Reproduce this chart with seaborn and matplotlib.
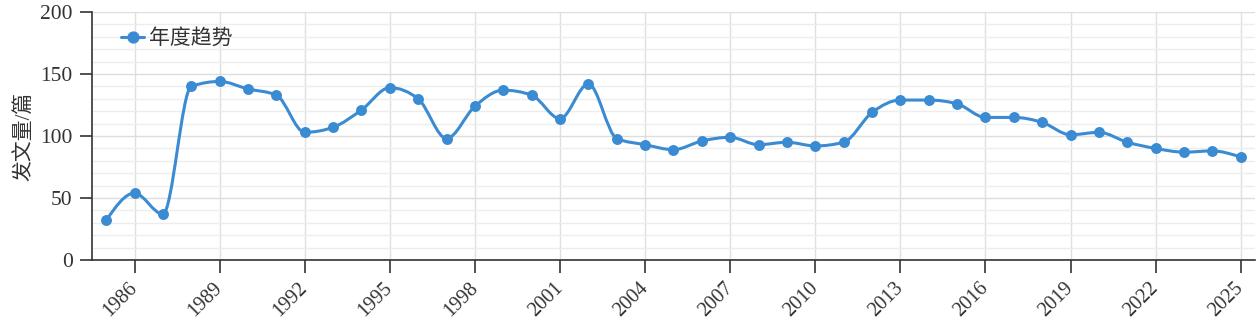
import numpy as np
import pandas as pd
import matplotlib
matplotlib.use("Agg")
import matplotlib.pyplot as plt
from matplotlib.path import Path
from matplotlib.patches import PathPatch
from matplotlib.lines import Line2D
from matplotlib.ticker import MultipleLocator
from matplotlib.transforms import ScaledTranslation
import seaborn as sns

years = list(range(1985, 2026))
counts = [32, 54, 37, 140, 144, 138, 133, 103, 107, 121, 139, 130, 98, 124,
          137, 133, 114, 142, 98, 93, 89, 96, 99, 93, 95, 92, 95, 119,
          129, 129, 126, 115, 115, 111, 101, 103, 95, 90, 87, 88, 83]
series_name = "年度趋势"
y_label = "发文量/篇"
x_ticks = list(range(1986, 2026, 3))

sns.set_theme(style="white")
plt.rcParams['font.family'] = ['Liberation Serif', 'Noto Sans CJK SC']
plt.rcParams['axes.unicode_minus'] = False

color = "#3b8bd3"
text_color = "#333333"
df = pd.DataFrame({"year": years, "count": counts})

fig = plt.figure(figsize=(12.6, 3.33), dpi=100)
ax = fig.add_axes([0.073, 0.219, 0.923, 0.745])


def monotone_x_path(xs, ys):
    """Cubic Bezier path with monotone-x tangents (as d3.curveMonotoneX)."""
    xs = np.asarray(xs, float)
    ys = np.asarray(ys, float)
    n = len(xs)
    h = np.diff(xs)
    s = np.diff(ys) / h
    sign = lambda v: -1.0 if v < 0 else 1.0
    t = np.zeros(n)
    for i in range(1, n - 1):
        h0, h1, s0, s1 = h[i - 1], h[i], s[i - 1], s[i]
        p = (s0 * h1 + s1 * h0) / (h0 + h1)
        t[i] = (sign(s0) + sign(s1)) * min(abs(s0), abs(s1), 0.5 * abs(p))
    t[0] = (3 * s[0] - t[1]) / 2
    t[-1] = (3 * s[-1] - t[-2]) / 2
    verts = [(xs[0], ys[0])]
    codes = [Path.MOVETO]
    for i in range(n - 1):
        dx = h[i] / 3
        verts += [(xs[i] + dx, ys[i] + dx * t[i]),
                  (xs[i + 1] - dx, ys[i + 1] - dx * t[i + 1]),
                  (xs[i + 1], ys[i + 1])]
        codes += [Path.CURVE4] * 3
    return Path(verts, codes)


patch = PathPatch(monotone_x_path(df["year"], df["count"]), facecolor="none",
                  edgecolor=color, lw=2.2, zorder=3, capstyle="round",
                  joinstyle="round")
ax.add_patch(patch)

sns.scatterplot(data=df, x="year", y="count", ax=ax, color=color, s=62,
                edgecolor=color, linewidth=0, zorder=4, legend=False)

ax.set_xlim(1984.5, 2025.5)
ax.set_ylim(0, 200)
ax.set_xticks(x_ticks)
ax.set_xticklabels([str(t) for t in x_ticks], rotation=45, ha="right",
                   va="center", rotation_mode="anchor", fontsize=14.5,
                   color=text_color)
offset = ScaledTranslation(6 / 100, 0, fig.dpi_scale_trans)
for lab in ax.get_xticklabels():
    lab.set_transform(lab.get_transform() + offset)
ax.yaxis.set_major_locator(MultipleLocator(50))
ax.yaxis.set_minor_locator(MultipleLocator(10))
ax.tick_params(axis="y", labelsize=15.5, colors=text_color, length=9, width=1.2,
               direction="out", left=True, pad=5)
ax.tick_params(axis="y", which="minor", length=0)
ax.tick_params(axis="x", length=9, width=1.2, direction="out", bottom=True,
               pad=9, colors=text_color)

ax.grid(True, axis="x", which="major", color="#e0e0e0", lw=1.0)
ax.grid(True, axis="y", which="major", color="#dddddd", lw=1.0)
ax.grid(True, axis="y", which="minor", color="#ededed", lw=1.0)
ax.set_axisbelow(True)

for s in ["top", "right"]:
    ax.spines[s].set_visible(False)
for s in ["left", "bottom"]:
    ax.spines[s].set_color(text_color)
    ax.spines[s].set_linewidth(1.2)

ax.set_xlabel("")
ax.set_ylabel(y_label, fontsize=15, color=text_color, labelpad=4)

handle = Line2D([0], [0], color=color, lw=2.2, marker="o", markersize=7.8)
leg = ax.legend([handle], [series_name], loc="upper left", frameon=False,
                fontsize=15, handlelength=1.1, handletextpad=0.25,
                borderaxespad=0, bbox_to_anchor=(0.018, 0.965))
for t in leg.get_texts():
    t.set_color(text_color)

fig.savefig("out.png", dpi=100)
